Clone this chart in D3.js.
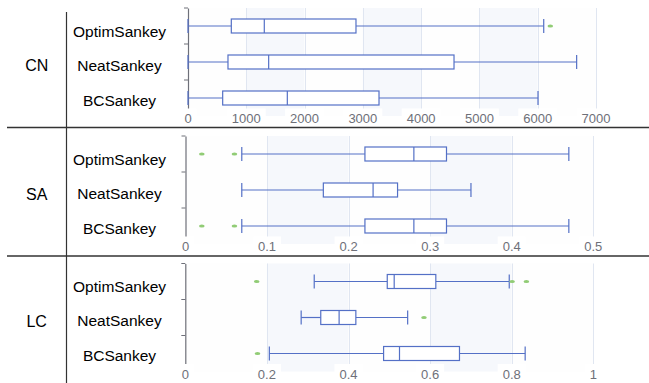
<!DOCTYPE html>
<html>
<head>
<meta charset="utf-8">
<script src="https://cdn.jsdelivr.net/npm/d3@7/dist/d3.min.js"></script>
<style>
html,body{margin:0;padding:0;background:#fff;}
svg{display:block;}
text{font-family:"Liberation Sans",Arial,sans-serif;}
</style>
</head>
<body>
<svg id="chart" width="649" height="383"></svg>
<script>
// ---------- data ----------
const groups = ["CN", "SA", "LC"];
const methods = ["OptimSankey", "NeatSankey", "BCSankey"];

// [min, Q1, median, Q3, max] per method
const cnBoxes = [[0, 743, 1309, 2882, 6103], [0, 686, 1384, 4564, 6668], [0, 595, 1704, 3277, 6005]];
const cnOutliers = [[6216], [], []];
const cnTicks = [0, 1000, 2000, 3000, 4000, 5000, 6000, 7000];
const cnTickLabels = ["0", "1000", "2000", "3000", "4000", "5000", "6000", "7000"];

const saBoxes = [[0.069, 0.220, 0.280, 0.320, 0.470], [0.069, 0.169, 0.230, 0.260, 0.350], [0.069, 0.220, 0.280, 0.320, 0.470]];
const saOutliers = [[0.020, 0.060], [], [0.020, 0.060]];
const saTicks = [0, 0.1, 0.2, 0.3, 0.4, 0.5];
const saTickLabels = ["0", "0.1", "0.2", "0.3", "0.4", "0.5"];

const lcBoxes = [[0.316, 0.495, 0.512, 0.614, 0.794], [0.284, 0.332, 0.377, 0.418, 0.545], [0.206, 0.486, 0.525, 0.672, 0.833]];
const lcOutliers = [[0.175, 0.801, 0.836], [0.585], [0.177]];
const lcTicks = [0, 0.2, 0.4, 0.6, 0.8, 1];
const lcTickLabels = ["0", "0.2", "0.4", "0.6", "0.8", "1"];

// ---------- layout ----------
const panels = [
  {boxes: cnBoxes, outliers: cnOutliers, ticks: cnTicks, labels: cnTickLabels, x0: 188, x1: 596, top: 8, bottom: 116, nameTop: 31, nameBottom: 100.5, groupY: 65},
  {boxes: saBoxes, outliers: saOutliers, ticks: saTicks, labels: saTickLabels, x0: 185.5, x1: 593.3, top: 136, bottom: 244, nameTop: 159, nameBottom: 228, groupY: 194},
  {boxes: lcBoxes, outliers: lcOutliers, ticks: lcTicks, labels: lcTickLabels, x0: 185.3, x1: 593.3, top: 263.5, bottom: 371.5, nameTop: 286, nameBottom: 355, groupY: 321}
];

const BLUE = "#5470c6", GREEN = "#91cc75", AXIS = "#6E7079", GRID = "#E0E6F1";
const svg = d3.select("#chart");

panels.forEach((p, pi) => {
  const g = svg.append("g");
  const x = d3.scaleLinear().domain([p.ticks[0], p.ticks[p.ticks.length - 1]]).range([p.x0, p.x1]);
  const y = d3.scaleBand().domain(methods).range([p.top, p.bottom]).padding(0);
  const bw = 14;

  // split areas
  for (let i = 0; i < p.ticks.length - 1; i++) {
    g.append("rect")
      .attr("x", x(p.ticks[i])).attr("y", p.top)
      .attr("width", x(p.ticks[i + 1]) - x(p.ticks[i]))
      .attr("height", p.bottom - p.top)
      .attr("fill", i % 2 === 1 ? "rgb(246,248,252)" : "rgb(254,254,254)");
  }
  // grid lines
  g.selectAll(".gl").data(p.ticks.slice(1)).enter().append("line")
    .attr("x1", d => Math.round(x(d)) + 0.5).attr("x2", d => Math.round(x(d)) + 0.5)
    .attr("y1", p.top).attr("y2", p.bottom)
    .attr("stroke", GRID).attr("stroke-width", 1);

  // y axis
  const yAxis = d3.axisLeft(y).tickSize(0).tickFormat("");
  const ay = g.append("g").attr("transform", `translate(${p.x0},0)`).call(yAxis);
  ay.select(".domain").attr("stroke", AXIS).attr("stroke-width", 1.2);
  const bounds = [p.top].concat(methods.map(m => y(m) + y.bandwidth()));
  g.selectAll(".yt").data(bounds).enter().append("line")
    .attr("x1", p.x0 - 4).attr("x2", p.x0)
    .attr("y1", d => d).attr("y2", d => d)
    .attr("stroke", AXIS).attr("stroke-width", 1);

  // boxes
  methods.forEach((m, mi) => {
    const b = p.boxes[mi];
    const cy = y(m) + y.bandwidth() / 2;
    const bg = g.append("g").attr("stroke", BLUE).attr("stroke-width", 1.2).attr("fill", "none");
    bg.append("line").attr("x1", x(b[0])).attr("x2", x(b[1])).attr("y1", cy).attr("y2", cy);
    bg.append("line").attr("x1", x(b[3])).attr("x2", x(b[4])).attr("y1", cy).attr("y2", cy);
    bg.append("line").attr("x1", x(b[0])).attr("x2", x(b[0])).attr("y1", cy - bw / 2).attr("y2", cy + bw / 2);
    bg.append("line").attr("x1", x(b[4])).attr("x2", x(b[4])).attr("y1", cy - bw / 2).attr("y2", cy + bw / 2);
    bg.append("rect").attr("x", x(b[1])).attr("y", cy - bw / 2)
      .attr("width", x(b[3]) - x(b[1])).attr("height", bw).attr("fill", "#fff");
    bg.append("line").attr("x1", x(b[2])).attr("x2", x(b[2])).attr("y1", cy - bw / 2).attr("y2", cy + bw / 2);
    p.outliers[mi].forEach(v => {
      g.append("ellipse").attr("cx", x(v)).attr("cy", cy).attr("rx", 2.8).attr("ry", 1.5).attr("fill", GREEN);
    });
  });

  // x tick labels with white background
  const lg = g.append("g");
  p.ticks.forEach((t, i) => {
    const tx = x(t);
    const ty = p.bottom + 2.7;
    const txt = lg.append("text").attr("x", tx).attr("y", ty)
      .attr("text-anchor", "middle").attr("dominant-baseline", "central")
      .attr("font-size", 13).attr("fill", AXIS).text(p.labels[i]);
    const w = txt.node().getComputedTextLength();
    lg.insert("rect", "text").attr("x", tx - w / 2 - 5).attr("y", p.bottom - 7.5)
      .attr("width", w + 10).attr("height", 18).attr("fill", "#fff");
  });

  // method names
  const ny = d3.scalePoint().domain(methods).range([p.nameTop, p.nameBottom]);
  methods.forEach(m => {
    svg.append("text").attr("x", 119.5).attr("y", ny(m))
      .attr("text-anchor", "middle").attr("dominant-baseline", "central")
      .attr("font-size", 15.5).attr("fill", "#000").text(m);
  });
  // group label
  svg.append("text").attr("x", 36.7).attr("y", p.groupY)
    .attr("text-anchor", "middle").attr("dominant-baseline", "central")
    .attr("font-size", 16).attr("fill", "#000").text(groups[pi]);
});

// separators
[127.5, 256].forEach(yy => {
  svg.append("line").attr("x1", 7).attr("x2", 649).attr("y1", yy).attr("y2", yy)
    .attr("stroke", "#333").attr("stroke-width", 1.5);
});
svg.append("line").attr("x1", 66.5).attr("x2", 66.5).attr("y1", 12).attr("y2", 383)
  .attr("stroke", "#333").attr("stroke-width", 1.2);
</script>
</body>
</html>
